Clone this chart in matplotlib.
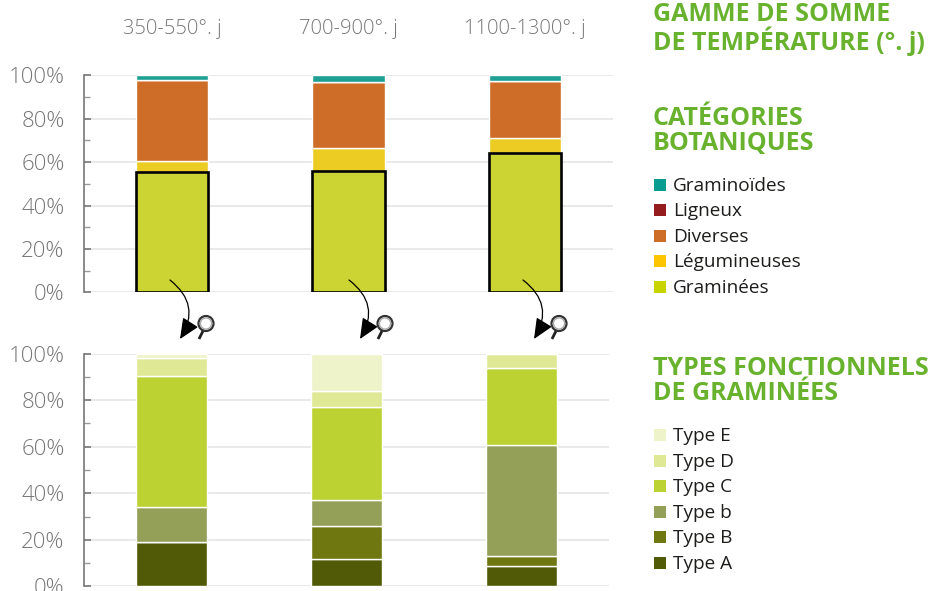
import matplotlib
matplotlib.use("Agg")
import matplotlib.pyplot as plt
import numpy as np
from matplotlib.patches import Circle, FancyArrowPatch, Rectangle

plt.rcParams['font.family'] = ['Open Sans', 'DejaVu Sans']

gammes = ['350-550°. j', '700-900°. j', '1100-1300°. j']
percent_ticks = [0, 20, 40, 60, 80, 100]

# top chart, bottom to top of the stack
graminees = [55.4, 55.9, 64.2]
legumineuses = [5.2, 10.4, 6.8]
diverses = [37.1, 30.5, 26.4]
ligneux = [0, 0, 0]
graminoides = [2.3, 3.2, 2.6]

# bottom chart
type_a = [19.0, 11.8, 8.8]
type_b = [0, 14.0, 4.2]
type_b2 = [15.0, 11.5, 47.8]
type_c = [56.2, 40.0, 33.0]
type_d = [8.1, 6.6, 6.2]
type_e = [1.7, 16.1, 0]

top_series = [graminees, legumineuses, diverses, ligneux, graminoides]
top_colors = ['#cbd433', '#eccb22', '#cd6d27', '#961e1e', '#1fa093']
bottom_series = [type_a, type_b, type_b2, type_c, type_d, type_e]
bottom_colors = ['#515a07', '#6f7711', '#949f58', '#bcd232', '#dfe995', '#eef3c9']

legend_top = ['Graminoïdes', 'Ligneux', 'Diverses', 'Légumineuses', 'Graminées']
legend_top_colors = ['#069c90', '#941c1c', '#cd6d27', '#fdc400', '#c8d400']
legend_bottom = ['Type E', 'Type D', 'Type C', 'Type b', 'Type B', 'Type A']

W, H = 929, 591
GREEN = '#68b22e'
GREY = '#777777'


def make_axes(left, right, y100, y0):
    ax = fig.add_axes([left / W, 1 - y0 / H, (right - left) / W, (y0 - y100) / H])
    ax.set_xlim(-0.5, 2.5)
    ax.set_ylim(0, 100)
    ax.set_facecolor('none')
    for s in ['top', 'right', 'bottom']:
        ax.spines[s].set_visible(False)
    ax.spines['left'].set_color('#777777')
    ax.spines['left'].set_linewidth(1.2)
    ax.set_yticks(percent_ticks)
    ax.set_yticklabels([str(t) + '%' for t in percent_ticks], fontsize=16,
                       fontweight='light', color=GREY)
    ax.set_yticks(np.arange(10, 100, 20), minor=True)
    ax.tick_params(axis='y', which='major', direction='in', length=5, width=1.2,
                   color='#777777', pad=14)
    ax.tick_params(axis='y', which='minor', direction='in', length=4, width=1,
                   color='#999999')
    ax.yaxis.grid(True, which='major', color='#e7e7e7', linewidth=1.3)
    ax.set_axisbelow(True)
    return ax


def stack(ax, series, colors, width):
    x = np.arange(len(gammes))
    bottom = np.zeros(len(gammes))
    for vals, col in zip(series, colors):
        ax.bar(x, vals, width, bottom=bottom, color=col, edgecolor='white', linewidth=1)
        bottom = bottom + np.array(vals)


fig = plt.figure(figsize=(W / 100, H / 100), dpi=100)

ax1 = make_axes(84, 613, 75.4, 292.3)
stack(ax1, top_series, top_colors, 0.41)
ax1.bar(range(3), graminees, 0.41, fill=False, edgecolor='black', linewidth=1.9)
ax1.xaxis.tick_top()
ax1.set_xticks(range(3))
ax1.set_xticklabels(gammes, fontsize=14.5, fontweight='light', color=GREY)
ax1.tick_params(axis='x', length=0, pad=26)

ax2 = make_axes(84, 609, 353.7, 586.3)
stack(ax2, bottom_series, bottom_colors, 0.406)
ax2.set_xticks([])

# overlay in pixel coordinates for arrows, magnifiers and the side text
over = fig.add_axes([0, 0, 1, 1])
over.set_xlim(0, W)
over.set_ylim(H, 0)
over.axis('off')
over.patch.set_alpha(0)

for x0, x1, mx in [(170, 180, 206), (349, 360, 385), (523, 534, 559)]:
    over.add_patch(FancyArrowPatch((x0, 280), (x1, 339), connectionstyle='arc3,rad=-0.45',
                                   arrowstyle='-|>,head_length=0.9,head_width=0.4',
                                   mutation_scale=14, color='black', lw=0.9,
                                   shrinkA=0, shrinkB=0))
    over.plot([mx - 3, mx - 7], [331, 339], color='#222222', lw=2, solid_capstyle='butt')
    over.add_patch(Circle((mx, 323.5), 7.5, facecolor='white', edgecolor='#333333', lw=1.6))
    over.add_patch(Circle((mx, 323.5), 5.6, facecolor='none', edgecolor='#aaaaaa', lw=1))


def heading(y, txt):
    over.text(653, y, txt, color=GREEN, fontsize=18, fontweight='bold',
              ha='left', va='center', linespacing=0.96)


heading(29, 'GAMME DE SOMME\nDE TEMPÉRATURE (°. j)')
heading(131, 'CATÉGORIES\nBOTANIQUES')
heading(381, 'TYPES FONCTIONNELS\nDE GRAMINÉES')


def side_legend(labels, colors, y_start, step):
    for i, (lab, col) in enumerate(zip(labels, colors)):
        y = y_start + i * step
        over.add_patch(Rectangle((654, y - 6), 12, 12, facecolor=col, edgecolor='none'))
        over.text(673, y + 1, lab, fontsize=13.7, color='#1d1d1b', ha='left', va='center')


side_legend(legend_top, legend_top_colors, 185, 25.4)
side_legend(legend_bottom, bottom_colors[::-1], 435, 25.6)

plt.savefig('out.png', dpi=100)
